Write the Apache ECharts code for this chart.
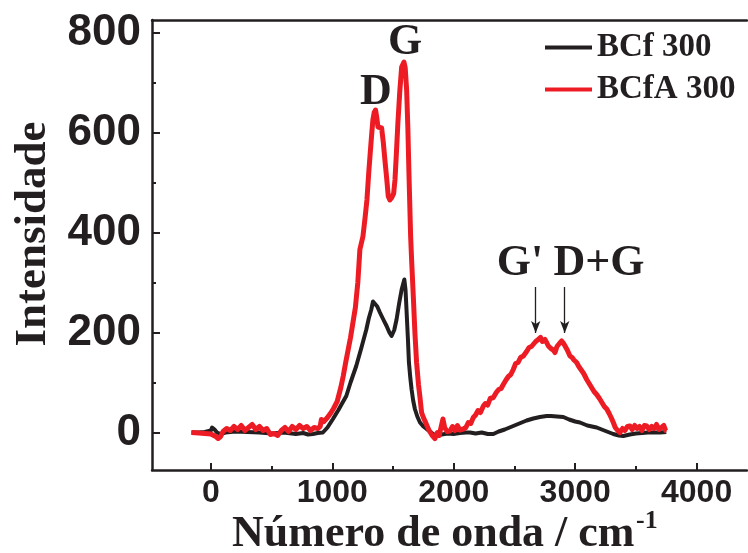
<!DOCTYPE html>
<html>
<head>
<meta charset="utf-8">
<script src="https://cdn.jsdelivr.net/npm/echarts@6/dist/echarts.min.js"></script>
<style>
html,body{margin:0;padding:0;background:#fff;}
#chart{width:748px;height:553px;}
</style>
</head>
<body>
<div id="chart"></div>
<script>
// ---- data ----
const seriesNames = ['BCf 300', 'BCfA 300'];

const blackX = [-160,-100,-50,0,10,30,50,80,120,200,300,400,500,600,700,760,800,840,880,922,960,1005,1050,1080,1115,1150,1197,1240,1280,1300,1321,1335,1351,1370,1392,1420,1447,1470,1488,1510,1529,1550,1571,1593,1603,1612,1622,1631,1642,1653,1665,1680,1700,1722,1750,1777,1800,1830,1860,1900,1950,1997,2050,2100,2134,2180,2230,2280,2326,2370,2420,2460,2490,2540,2600,2655,2710,2765,2800,2850,2902,2950,3000,3039,3100,3177,3250,3314,3360,3396,3450,3500,3600,3700,3750];
const blackY = [0,0,1,4,10,6,0,-3,0,2,1,0,-2,0,-3,-1,-4,-3,-1,0,10,27,45,58,73,100,133,170,206,228,246,262,266,252,240,226,213,200,193,205,226,258,286,306,285,240,190,140,110,86,65,47,32,20,12,7,3,-3,-6,-4,-2,-3,-1,0,0,-2,0,-3,-3,2,6,10,13,18,24,28,31,33,33,32,31,26,22,20,14,10,3,-3,-6,-7,-4,-2,0,0,1];

const redX = [-160,-100,-50,0,40,60,80,100,130,160,190,220,250,280,310,340,370,400,430,460,490,520,550,580,610,640,670,700,730,760,790,820,850,880,900,910,930,960,990,1010,1040,1070,1090,1110,1130,1150,1170,1190,1210,1227,1252,1270,1285,1300,1310,1322,1334,1345,1356,1366,1376,1390,1406,1420,1433,1447,1461,1474,1490,1505,1516,1528,1540,1555,1571,1590,1600,1612,1622,1631,1645,1653,1667,1680,1694,1710,1722,1735,1750,1765,1777,1795,1820,1845,1865,1880,1895,1911,1925,1945,1969,1990,2010,2030,2050,2079,2100,2120,2140,2161,2180,2200,2220,2244,2260,2280,2300,2326,2350,2370,2390,2408,2430,2450,2470,2490,2510,2530,2550,2573,2600,2620,2640,2655,2675,2696,2715,2730,2751,2765,2779,2800,2820,2834,2850,2870,2889,2905,2916,2935,2957,2975,2990,3012,3030,3050,3070,3095,3115,3135,3155,3177,3200,3220,3240,3260,3280,3300,3314,3330,3350,3369,3390,3410,3430,3451,3470,3490,3510,3530,3550,3570,3589,3610,3630,3650,3670,3690,3710,3730,3745,3754];
const redY = [0,-1,-2,-3,-8,-12,-8,2,8,4,12,6,14,4,10,16,6,12,4,8,-4,-2,-6,4,10,2,12,6,14,8,12,4,10,8,12,26,22,30,40,48,62,90,113,140,165,190,220,250,300,366,392,430,465,520,552,590,625,640,645,630,611,612,609,580,545,510,472,465,470,478,505,560,619,680,731,741,730,685,610,519,392,345,272,200,140,95,70,40,30,22,15,5,-5,-12,0,-6,10,27,10,2,3,12,4,14,5,7,10,20,18,30,35,44,40,53,58,55,68,70,80,86,88,96,105,112,116,126,138,140,150,153,162,170,172,176,182,186,190,182,186,180,173,168,165,160,172,178,183,178,180,165,153,150,145,140,132,125,118,106,98,90,82,76,68,60,52,47,38,28,20,10,4,0,8,4,12,13,6,14,8,12,4,14,13,6,12,8,16,6,10,14,4,3];

const xMajorTicks = [0, 1000, 2000, 3000, 4000];
const xMinorTicks = [500, 1500, 2500, 3500];
const yMajorTicks = [0, 200, 400, 600, 800];
const yMinorTicks = [100, 300, 500, 700];

const arrowX = [2675, 2914];      // G' and D+G positions (cm^-1)
const arrowYFrom = 291, arrowYTo = 199;

// ---- build ----
const ink = '#231f20';
const red = '#ed1c24';
const zip = (xs, ys) => xs.map((x, i) => [x, ys[i]]);
const plain = v => String(v);
const sansBold = {fontFamily: '"Liberation Sans", Arial, sans-serif', fontWeight: 'bold', color: ink};
const serifBold = {fontFamily: '"Liberation Serif", "Times New Roman", serif', fontWeight: 'bold', fill: ink};

const chart = echarts.init(document.getElementById('chart'), null, {renderer: 'canvas'});

const xBase = {type: 'value', min: -485, max: 4415, splitLine: {show: false}};
const yBase = {type: 'value', min: -75, max: 825, splitLine: {show: false}};

chart.setOption({
  animation: false,
  backgroundColor: '#fff',
  grid: {left: 152, top: 20, width: 595, height: 450, containLabel: false},
  legend: {
    orient: 'vertical', left: 545, top: 31, padding: 0, itemGap: 9,
    icon: 'rect', itemWidth: 47, itemHeight: 4,
    data: seriesNames,
    textStyle: {fontFamily: '"Liberation Serif", "Times New Roman", serif', fontWeight: 'bold', fontSize: 33, lineHeight: 33, color: ink}
  },
  xAxis: [
    Object.assign({}, xBase, {
      position: 'bottom',
      axisLine: {show: true, onZero: false, lineStyle: {color: ink, width: 2.5}},
      axisTick: {show: true, inside: true, length: 7, customValues: xMajorTicks, lineStyle: {color: ink, width: 2}},
      axisLabel: Object.assign({show: true, customValues: xMajorTicks, formatter: plain, fontSize: 32, margin: 7}, sansBold)
    }),
    Object.assign({}, xBase, {
      position: 'bottom',
      axisLine: {show: false, onZero: false},
      axisTick: {show: true, inside: true, length: 4, customValues: xMinorTicks, lineStyle: {color: ink, width: 2}},
      axisLabel: {show: false}
    }),
    Object.assign({}, xBase, {
      position: 'top',
      axisLine: {show: true, onZero: false, lineStyle: {color: ink, width: 2.5}},
      axisTick: {show: false},
      axisLabel: {show: false}
    })
  ],
  yAxis: [
    Object.assign({}, yBase, {
      position: 'left',
      axisLine: {show: true, onZero: false, lineStyle: {color: ink, width: 2.5}},
      axisTick: {show: true, inside: true, length: 8, customValues: yMajorTicks, lineStyle: {color: ink, width: 2}},
      axisLabel: Object.assign({show: true, customValues: yMajorTicks, formatter: plain, fontSize: 44, margin: 11}, sansBold)
    }),
    Object.assign({}, yBase, {
      position: 'left',
      axisLine: {show: false, onZero: false},
      axisTick: {show: true, inside: true, length: 4, customValues: yMinorTicks, lineStyle: {color: ink, width: 2}},
      axisLabel: {show: false}
    })
  ],
  series: [
    {
      name: seriesNames[0], type: 'line', xAxisIndex: 0, yAxisIndex: 0,
      data: zip(blackX, blackY), showSymbol: false, symbol: 'none',
      color: ink, lineStyle: {color: ink, width: 4, join: 'round'}, z: 2
    },
    {
      name: seriesNames[1], type: 'line', xAxisIndex: 0, yAxisIndex: 0,
      data: zip(redX, redY), showSymbol: false, symbol: 'none',
      color: red, lineStyle: {color: red, width: 5, join: 'round'}, z: 3,
      markLine: {
        silent: true, symbol: ['none', 'arrow'], symbolSize: [7, 12],
        label: {show: false},
        lineStyle: {color: ink, width: 1.3, type: 'solid'},
        data: arrowX.map(x => [{coord: [x, arrowYFrom]}, {coord: [x, arrowYTo]}])
      }
    }
  ],
  graphic: [
    {type: 'text', x: 33, y: 234, rotation: Math.PI / 2, style: Object.assign({text: 'Intensidade', fontSize: 45, align: 'center', verticalAlign: 'middle'}, serifBold)},
    {type: 'text', x: 232, y: 535, style: Object.assign({text: 'Número de onda / cm', fontSize: 44, align: 'left', verticalAlign: 'middle'}, serifBold)},
    {type: 'text', x: 636, y: 521, style: Object.assign({text: '-1', fontSize: 26, align: 'left', verticalAlign: 'middle'}, serifBold)},
    {type: 'text', x: 376, y: 93, style: Object.assign({text: 'D', fontSize: 44, align: 'center', verticalAlign: 'middle'}, serifBold)},
    {type: 'text', x: 405, y: 43, style: Object.assign({text: 'G', fontSize: 44, align: 'center', verticalAlign: 'middle'}, serifBold)},
    {type: 'text', x: 520, y: 264, style: Object.assign({text: "G'", fontSize: 44, align: 'center', verticalAlign: 'middle'}, serifBold)},
    {type: 'text', x: 599, y: 264, style: Object.assign({text: 'D+G', fontSize: 44, align: 'center', verticalAlign: 'middle'}, serifBold)}
  ]
});
</script>
</body>
</html>
